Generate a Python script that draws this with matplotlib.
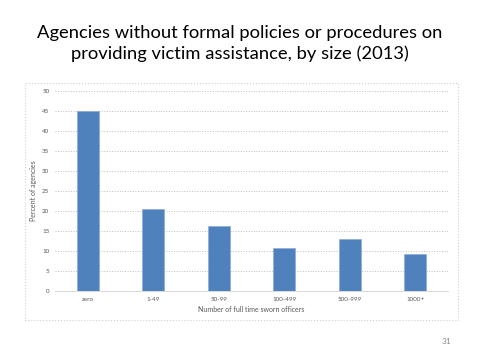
import matplotlib.pyplot as plt
from matplotlib.patches import Rectangle

# data
categories = ["zero", "1-49", "50-99", "100-499", "500-999", "1000+"]
percent = [45, 20.5, 16.25, 10.75, 13, 9.25]

plt.rcParams['font.family'] = ['Lato', 'DejaVu Sans']

fig = plt.figure(figsize=(4.8, 3.6), dpi=100)
fig.text(0.5, 0.88, "Agencies without formal policies or procedures on\nproviding victim assistance, by size (2013)",
         ha="center", va="center", fontsize=13.2, linespacing=1.35)

# chart frame
fig.patches.append(Rectangle((25 / 480, 1 - 320 / 360), 433 / 480, 237 / 360, transform=fig.transFigure,
                             fill=False, edgecolor="#d0d0d0", linestyle=":", linewidth=0.8))

ax = fig.add_axes([55 / 480, 1 - 291 / 360, 393 / 480, 200 / 360])
x = range(len(categories))
ax.bar(x, percent, width=0.34, color="#4f81bd", edgecolor="#8eaadb", linewidth=0.5, zorder=3)
ax.set_xlim(-0.5, len(categories) - 0.5)
ax.set_ylim(0, 50)
ax.set_yticks(range(0, 51, 5))
ax.set_xticks(list(x))
ax.set_xticklabels(categories)
ax.tick_params(labelsize=4.5, length=0, colors="#595959", pad=4)
ax.yaxis.grid(True, linestyle=":", color="#bfbfbf", linewidth=0.7, zorder=0)
for s in ["top", "right", "left"]:
    ax.spines[s].set_visible(False)
ax.spines["bottom"].set_color("#d9d9d9")
ax.spines["bottom"].set_linewidth(0.7)
ax.set_ylabel("Percent of agencies", fontsize=5, color="#595959", labelpad=4)
ax.set_xlabel("Number of full time sworn officers", fontsize=5, color="#595959", labelpad=3)

fig.text(447 / 480, 1 - 342 / 360, "31", fontsize=6, color="#8c8c8c", ha="center", va="center")

plt.savefig("out.png", dpi=100)
